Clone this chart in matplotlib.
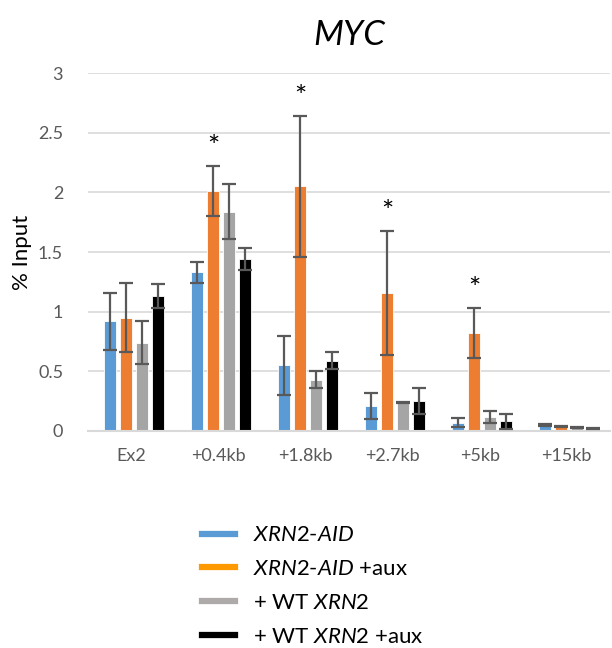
import numpy as np
import matplotlib
matplotlib.use("Agg")
import matplotlib.pyplot as plt
from matplotlib.lines import Line2D

plt.rcParams["font.family"] = ["Lato", "DejaVu Sans"]
plt.rcParams["mathtext.fontset"] = "custom"
plt.rcParams["mathtext.rm"] = "Lato"
plt.rcParams["mathtext.it"] = "Lato:italic"

# ---- data ----
categories = ["Ex2", "+0.4kb", "+1.8kb", "+2.7kb", "+5kb", "+15kb"]
series = ["XRN2-AID", "XRN2-AID +aux", "+ WT XRN2", "+ WT XRN2 +aux"]
means = [
    [0.92, 1.33, 0.55, 0.21, 0.07, 0.05],
    [0.95, 2.01, 2.05, 1.16, 0.82, 0.04],
    [0.74, 1.84, 0.43, 0.24, 0.12, 0.03],
    [1.13, 1.44, 0.59, 0.25, 0.08, 0.02],
]
errors = [
    [0.24, 0.09, 0.25, 0.11, 0.04, 0.005],
    [0.29, 0.21, 0.59, 0.52, 0.21, 0.005],
    [0.18, 0.23, 0.07, 0.005, 0.05, 0.005],
    [0.10, 0.09, 0.07, 0.11, 0.06, 0.005],
]
significant = [False, True, True, True, True, False]  # on XRN2-AID +aux

bar_colors = ["#5B9BD5", "#ED7D31", "#A5A5A5", "#000000"]
legend_colors = ["#5B9BD5", "#FF9900", "#AEAAAA", "#000000"]
legend_labels = [
    r"$\mathit{XRN2}$-$\mathit{AID}$",
    r"$\mathit{XRN2}$-$\mathit{AID}$ +aux",
    r"+ WT $\mathit{XRN2}$",
    r"+ WT $\mathit{XRN2}$ +aux",
]

fig = plt.figure(figsize=(6.12, 6.48), dpi=100)
ax = fig.add_axes([0.144, 0.335, 0.853, 0.552])

x = np.arange(len(categories))
width = 0.138
step = 0.184
offsets = (np.arange(len(series)) - 1.5) * step + 0.03

for i in range(len(series)):
    ax.bar(x + offsets[i], means[i], width, color=bar_colors[i],
           edgecolor="white", linewidth=0.6, zorder=2)
    ax.errorbar(x + offsets[i], means[i], yerr=errors[i], fmt="none",
                ecolor="#595959", elinewidth=1.6, capsize=5, capthick=1.6, zorder=3)

for j, sig in enumerate(significant):
    if sig:
        top = means[1][j] + errors[1][j]
        ax.text(x[j] + offsets[1], top + 0.04, "*", ha="center", va="bottom",
                fontsize=21, color="black")

ax.set_xlim(-0.5, len(categories) - 0.5)
ax.set_ylim(0, 3)
ax.set_yticks(np.arange(0, 3.01, 0.5))
ax.set_yticklabels(["0", "0.5", "1", "1.5", "2", "2.5", "3"])
ax.set_xticks(x)
ax.set_xticklabels(categories)
ax.tick_params(axis="both", length=0, labelsize=13, colors="#595959", pad=12)
ax.tick_params(axis="y", pad=18)
ax.yaxis.grid(True, color="#D9D9D9", linewidth=1.2, zorder=0)
ax.set_axisbelow(True)
for s in ["top", "right", "left"]:
    ax.spines[s].set_visible(False)
ax.spines["bottom"].set_color("#D9D9D9")
ax.spines["bottom"].set_linewidth(1.5)

ax.set_ylabel("% Input", fontsize=16, labelpad=4)
ax.set_title("MYC", fontsize=25, style="italic", pad=20)

handles = [Line2D([0], [0], color=c, linewidth=4.5) for c in legend_colors]
fig.legend(handles, legend_labels, loc="upper left", bbox_to_anchor=(0.315, 0.203),
           frameon=False, fontsize=16, handlelength=1.5, labelspacing=0.62,
           handletextpad=0.8, borderaxespad=0)

fig.savefig("out.png", dpi=100)
